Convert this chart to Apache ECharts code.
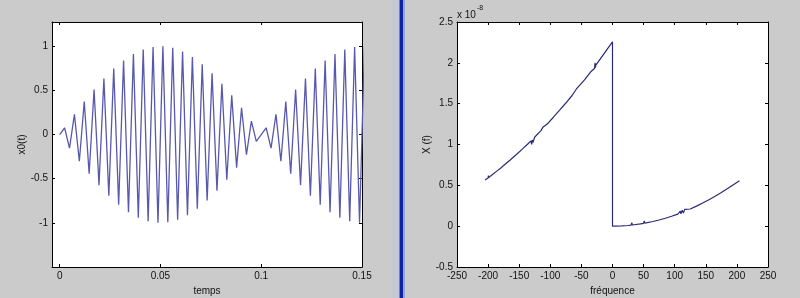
<!DOCTYPE html>
<html>
<head>
<meta charset="utf-8">
<script src="https://cdn.jsdelivr.net/npm/echarts@6/dist/echarts.min.js"></script>
<style>
html,body{margin:0;padding:0;background:#cbcbcb;}
#c{width:800px;height:298px;}
</style>
</head>
<body>
<div id="c"></div>
<script>
// ---- Left panel: x0(t) samples ----
const tempsValues = [0, 0.00244, 0.00488, 0.00732, 0.00976, 0.01220, 0.01463, 0.01707, 0.01951, 0.02195,
  0.02439, 0.02683, 0.02927, 0.03171, 0.03415, 0.03659, 0.03902, 0.04146, 0.04390, 0.04634,
  0.04878, 0.05122, 0.05366, 0.05610, 0.05854, 0.06098, 0.06341, 0.06585, 0.06829, 0.07073,
  0.07317, 0.07561, 0.07805, 0.08049, 0.08293, 0.08537, 0.08780, 0.09024, 0.09268, 0.09512,
  0.09756, 0.1, 0.10244, 0.10488, 0.10732, 0.10976, 0.11220, 0.11463, 0.11707, 0.11951,
  0.12195, 0.12439, 0.12683, 0.12927, 0.13171, 0.13415, 0.13659, 0.13902, 0.14146, 0.14390,
  0.14634, 0.14878, 0.15122];
const x0Values = [0, 0.077, -0.153, 0.228, -0.302, 0.374, -0.444, 0.511, -0.575, 0.636,
  -0.694, 0.747, -0.795, 0.839, -0.879, 0.913, -0.941, 0.964, -0.982, 0.993,
  -0.999, 0.999, -0.993, 0.982, -0.964, 0.941, -0.913, 0.879, -0.839, 0.795,
  -0.747, 0.694, -0.636, 0.575, -0.511, 0.444, -0.374, 0.302, -0.228, 0.153,
  -0.077, 0, 0.077, -0.153, 0.228, -0.302, 0.374, -0.444, 0.511, -0.575,
  0.636, -0.694, 0.747, -0.795, 0.839, -0.879, 0.913, -0.941, 0.964, -0.982,
  0.993, -0.999, 0.999];
const leftXTicks = [0, 0.05, 0.1, 0.15];
const leftYTicks = [-1, -0.5, 0, 0.5, 1];

// ---- Right panel: X(f), values in units of 1e-8 ----
const freqValues = [-205, -200, -199.5, -199, -195, -185, -180, -175, -165, -155, -145, -135,
  -131, -130, -129, -128, -125, -115, -113, -112, -111, -105, -95, -85, -84, -75, -65,
  -58, -57, -56, -55, -45, -35, -29, -28, -27.5, -27, -25, -15, -5, 0,
  0, 5, 15, 25, 30, 31, 32, 35, 45, 50, 51, 52, 55, 65, 75, 85, 95, 105,
  108, 109, 110, 112, 114, 116, 118, 125, 135, 145, 155, 165, 175, 185, 195, 204];
const magValues = [0.565, 0.59, 0.62, 0.594, 0.621, 0.680, 0.71, 0.742, 0.807, 0.874, 0.944, 1.016,
  1.045, 1.00, 1.055, 1.025, 1.092, 1.170, 1.18, 1.21, 1.19, 1.250, 1.334, 1.420, 1.44, 1.508, 1.600,
  1.68, 1.70, 1.675, 1.694, 1.791, 1.890, 1.93, 2.00, 1.94, 1.97, 1.992, 2.097, 2.204, 2.257,
  0, 0.0, 0.003, 0.008, 0.012, 0.042, 0.014, 0.016, 0.027, 0.034, 0.065, 0.037, 0.041, 0.057, 0.076, 0.097, 0.121, 0.148,
  0.157, 0.185, 0.150, 0.195, 0.160, 0.205, 0.187, 0.210, 0.245, 0.283, 0.323, 0.366, 0.412, 0.460, 0.511, 0.556];
const rightXTicks = [-250, -200, -150, -100, -50, 0, 50, 100, 150, 200, 250];
const rightYTicks = [-0.5, 0, 0.5, 1, 1.5, 2, 2.5];

const x0Data = tempsValues.map((t, i) => [t, x0Values[i]]);
const xfData = freqValues.map((f, i) => [f, magValues[i]]);

const FONT = 'Liberation Sans, Arial, sans-serif';
const labelStyle = {color: '#111', fontSize: 10, fontFamily: FONT};

function fmt(v) { return String(Math.round(v * 1000) / 1000); }

function mainAxisX(gi, min, max, ticks, name) {
  return {
    type: 'value', gridIndex: gi, min: min, max: max, position: 'bottom',
    axisLine: {show: true, onZero: false, lineStyle: {color: '#000', width: 1}},
    axisTick: {show: true, inside: true, length: 3, customValues: ticks, lineStyle: {color: '#000'}},
    axisLabel: Object.assign({show: true, margin: 4, customValues: ticks, formatter: fmt,
      showMinLabel: true, showMaxLabel: true, hideOverlap: false}, labelStyle),
    splitLine: {show: false},
    name: name, nameLocation: 'middle', nameGap: 14,
    nameTextStyle: {color: '#111', fontSize: 10, fontFamily: FONT}
  };
}
function mirrorAxisX(gi, min, max, ticks) {
  return {
    type: 'value', gridIndex: gi, min: min, max: max, position: 'top',
    axisLine: {show: true, onZero: false, lineStyle: {color: '#000', width: 1}},
    axisTick: {show: true, inside: true, length: 3, customValues: ticks, lineStyle: {color: '#000'}},
    axisLabel: {show: false}, splitLine: {show: false}
  };
}
function mainAxisY(gi, min, max, ticks, name, nameGap) {
  return {
    type: 'value', gridIndex: gi, min: min, max: max, position: 'left',
    axisLine: {show: true, onZero: false, lineStyle: {color: '#000', width: 1}},
    axisTick: {show: true, inside: true, length: 3, customValues: ticks, lineStyle: {color: '#000'}},
    axisLabel: Object.assign({show: true, margin: 4, customValues: ticks, formatter: fmt,
      showMinLabel: true, showMaxLabel: true, hideOverlap: false}, labelStyle),
    splitLine: {show: false},
    name: name, nameLocation: 'middle', nameGap: nameGap, nameRotate: 90,
    nameTextStyle: {color: '#111', fontSize: 10, fontFamily: FONT}
  };
}
function mirrorAxisY(gi, min, max, ticks) {
  return {
    type: 'value', gridIndex: gi, min: min, max: max, position: 'right',
    axisLine: {show: true, onZero: false, lineStyle: {color: '#000', width: 1}},
    axisTick: {show: true, inside: true, length: 3, customValues: ticks, lineStyle: {color: '#000'}},
    axisLabel: {show: false}, splitLine: {show: false}
  };
}

const chart = echarts.init(document.getElementById('c'), null, {renderer: 'canvas'});
chart.setOption({
  backgroundColor: '#cbcbcb',
  animation: false,
  grid: [
    {left: 52, top: 22, width: 310, height: 245, show: true, backgroundColor: '#ffffff', borderWidth: 0,
      containLabel: false, outerBoundsMode: 'none'},
    {left: 457, top: 22, width: 311, height: 245, show: true, backgroundColor: '#ffffff', borderWidth: 0,
      containLabel: false, outerBoundsMode: 'none'}
  ],
  xAxis: [
    mainAxisX(0, -0.0038, 0.15, leftXTicks, 'temps'),
    mirrorAxisX(0, -0.0038, 0.15, leftXTicks),
    mainAxisX(1, -250, 250, rightXTicks, 'fréquence'),
    mirrorAxisX(1, -250, 250, rightXTicks)
  ],
  yAxis: [
    mainAxisY(0, -1.5, 1.275, leftYTicks, 'x0(t)', 24),
    mirrorAxisY(0, -1.5, 1.275, leftYTicks),
    mainAxisY(1, -0.5, 2.5, rightYTicks, 'X (f)', 25),
    mirrorAxisY(1, -0.5, 2.5, rightYTicks)
  ],
  series: [
    {type: 'line', xAxisIndex: 0, yAxisIndex: 0, data: x0Data, showSymbol: false, clip: true,
      lineStyle: {color: '#5858ae', width: 1.3}, silent: true},
    {type: 'line', xAxisIndex: 2, yAxisIndex: 2, data: xfData, showSymbol: false, clip: true,
      lineStyle: {color: '#2a2a78', width: 1.2}, silent: true}
  ],
  graphic: [
    {type: 'rect', shape: {x: 392, y: 0, width: 7, height: 298}, style: {fill: '#c7c8d6'}, silent: true},
    {type: 'rect', shape: {x: 399, y: 0, width: 1, height: 298}, style: {fill: '#7080c8'}, silent: true},
    {type: 'rect', shape: {x: 400, y: 0, width: 3, height: 298}, style: {fill: '#0b24a6'}, silent: true},
    {type: 'rect', shape: {x: 403, y: 0, width: 2, height: 298}, style: {fill: '#9aa6dc'}, silent: true},
    {type: 'text', left: 457, top: 10, style: {text: 'x 10', fill: '#111', fontSize: 10, fontFamily: FONT}, silent: true},
    {type: 'text', left: 477, top: 5, style: {text: '-8', fill: '#111', fontSize: 7, fontFamily: FONT}, silent: true}
  ]
});
</script>
</body>
</html>
